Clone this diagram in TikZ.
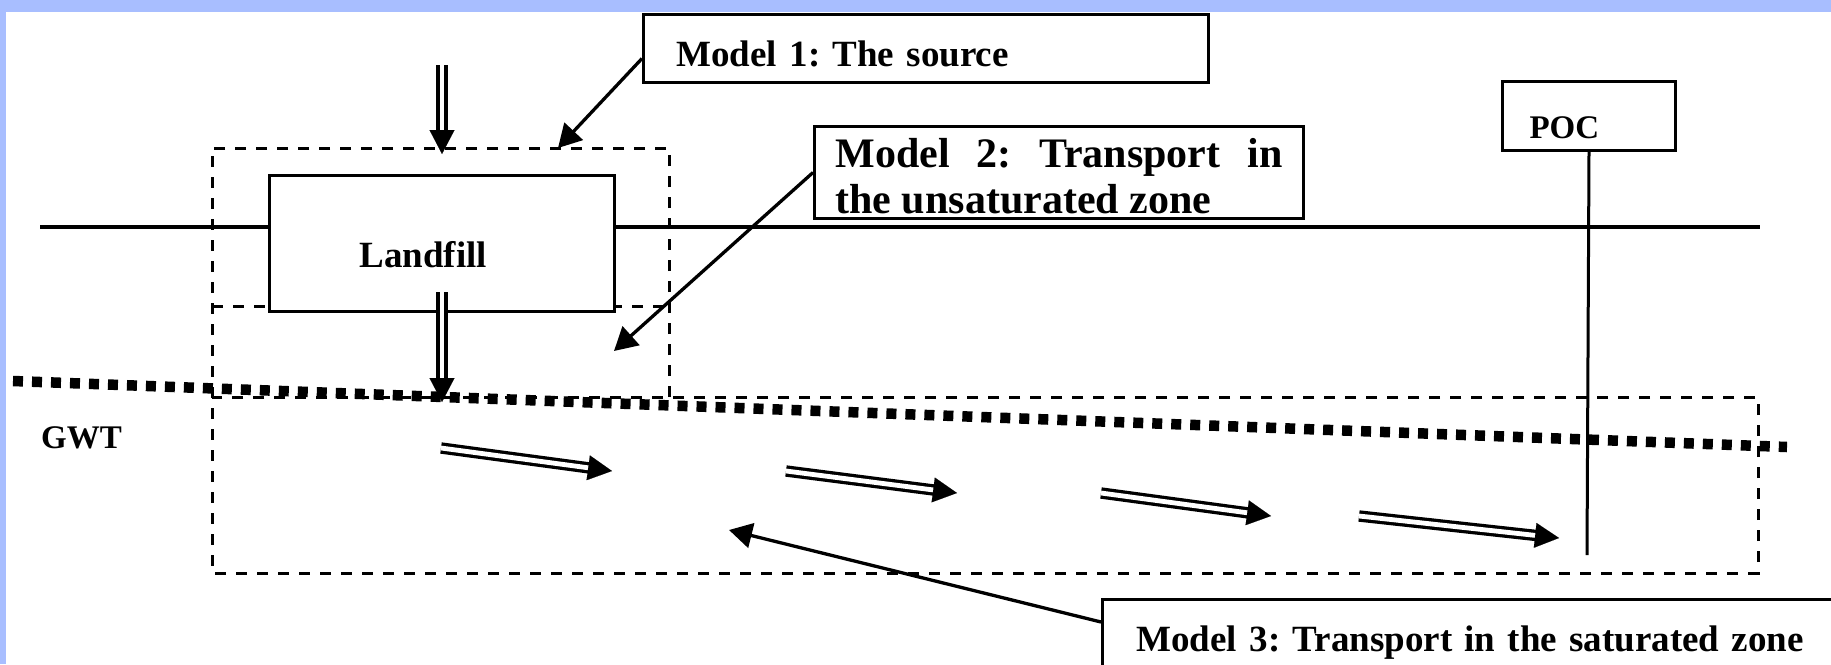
\documentclass[tikz,border=0pt]{standalone}
\usepackage{fontspec}
\setmainfont{Liberation Serif}
\frenchspacing
\usetikzlibrary{arrows.meta,calc}
\definecolor{framebg}{RGB}{168,190,255}

\begin{document}
\begin{tikzpicture}[x=1pt, y=-1pt,
    box/.style={draw=black, line width=3pt, fill=white, inner ysep=0pt, align=left},
    zone/.style={draw=black, line width=3pt, dash pattern=on 11pt off 10pt},
    pointer/.style={line width=3.3pt, -{Triangle[length=23pt,width=25pt]}},
    flowline/.style={draw=black, double=white, double distance=4.8pt, line width=3.3pt},
    flowhead/.style={line width=0.1pt, -{Triangle[length=24pt,width=25pt]}},
    lbl/.style={font=\bfseries\fontsize{37}{41}\selectfont}]
    \pgfmathsetmacro{\gwtw}{10.5} %地下水位線的粗細
    
    \useasboundingbox (0,0) rectangle (1831,664);
    \fill[framebg] (0,0) rectangle (1831,664);
    \fill[white] (6,12) rectangle (1831,664);
    
    %%各區域的角點, 以像素為單位, y 往下為正
    \coordinate (Gleft) at (40,227);
    \coordinate (Gright) at (1760,227);
    \coordinate (Zup1) at (212,148);
    \coordinate (Zup2) at (669,148);
    \coordinate (Zmid1) at (212,306);
    \coordinate (Zmid2) at (669,306);
    \coordinate (Zsat1) at (212,397);
    \coordinate (Zsat2) at (1758,397);
    \coordinate (Zsat3) at (669,397);
    \coordinate (Zdown1) at (212,573);
    \coordinate (Zdown2) at (1758,573);
    \coordinate (GWTleft) at (13,381);
    \coordinate (GWTright) at (1787,447);
    \coordinate (Psrc) at (558,148);
    \coordinate (Punsat) at (614,351);
    \coordinate (Psat) at (729,530);
    \coordinate (Pocend) at (1587,555);
    
    \draw[zone] (Zsat3) -- (Zup2) -- (Zup1) -- (Zdown1) -- (Zdown2) -- (Zsat2) -- (Zsat1)
    (Zmid1) -- (Zmid2);
    \draw[line width=3.1pt] (Gleft) -- (Gright);
    \draw[line width=\gwtw pt, dash pattern=on 10pt off 9pt] (GWTleft) -- (GWTright);
    
    \node[box, lbl, anchor=north west,
        minimum width=345pt, minimum height=136pt, inner xsep=90pt, text width=165pt,
        text height=48pt, text depth=0pt] (landfill) at (268,174) {Landfill};
    \node[box, lbl, anchor=north west, minimum width=565pt, minimum height=68pt,
        inner xsep=33pt, text width=499pt, text height=36pt, text depth=0pt]
        (mone) at (642,13) {Model 1: The source};
    \node[box, lbl, font=\bfseries\fontsize{42}{46}\selectfont, align=justify,
        anchor=north west, minimum height=92pt, inner xsep=21pt, text width=447pt,
        text height=40pt, text depth=50pt]
        (mtwo) at (813,125) {Model 2: Transport in\linebreak the unsaturated zone};
    \node[box, lbl, font=\bfseries\fontsize{33}{36}\selectfont, anchor=north west,
        minimum width=173pt, minimum height=69pt, inner xsep=27pt, text width=119pt,
        text height=45pt, text depth=0pt] (poc) at (1501,80) {POC};
    \node[box, lbl, anchor=north west, minimum width=780pt, minimum height=120pt,
        inner xsep=34pt, text width=712pt, text height=32pt, text depth=48pt]
        (mthree) at (1101,598) {Model 3: Transport in the saturated zone};
    \node[lbl, font=\bfseries\fontsize{33}{36}\selectfont, anchor=base west, inner sep=0pt]
        (gwt) at (41,448) {GWT};
    
    \draw[line width=3pt] (poc.south) -- (Pocend);
    \draw[pointer] ([yshift=-10pt]mone.west) -- (Psrc);
    \draw[pointer] (mtwo.west) -- (Punsat);
    \draw[pointer] ([yshift=-24pt]mthree.north west) -- (Psat);
    
    %%雙線箭頭: 起點/終點
    \coordinate (Vtop1) at (442,65);
    \coordinate (Vtop2) at (442,154);
    \coordinate (Vbot1) at (442,292);
    \coordinate (Vbot2) at (442,402);
    \coordinate (Flow1a) at (441,448);
    \coordinate (Flow1b) at (612,471);
    \coordinate (Flow2a) at (786,471);
    \coordinate (Flow2b) at (957,493);
    \coordinate (Flow3a) at (1101,493);
    \coordinate (Flow3b) at (1271,516);
    \coordinate (Flow4a) at (1359,516);
    \coordinate (Flow4b) at (1559,538);
    \foreach \s/\e in
    {Vtop1/Vtop2,
        Vbot1/Vbot2,
        Flow1a/Flow1b,
        Flow2a/Flow2b,
        Flow3a/Flow3b,
        Flow4a/Flow4b}
    {
        \draw[flowline, shorten >=12pt] (\s) -- (\e);
        \draw[flowhead] ($(\e)!24pt!(\s)$) -- (\e);
    };
\end{tikzpicture}
\end{document}
